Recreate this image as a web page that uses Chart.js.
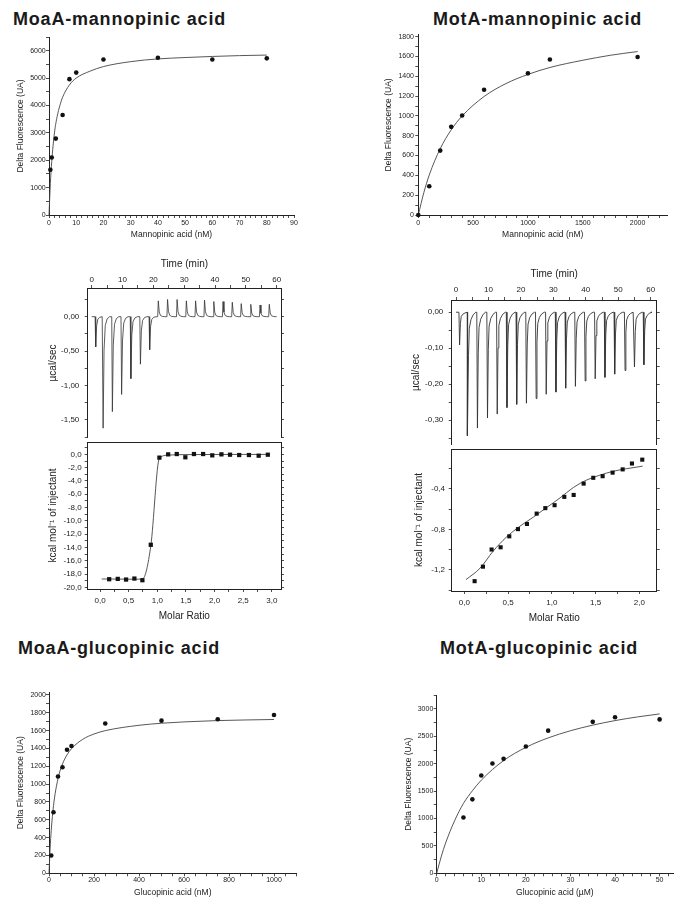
<!DOCTYPE html>
<html>
<head>
<meta charset="utf-8">
<title>index</title>
<script src="https://cdn.jsdelivr.net/npm/chart.js"></script>
<style>
  body { margin: 0; background: #fff; }
  #page { position: relative; width: 677px; height: 899px; overflow: hidden; font-family: "Liberation Sans", Arial, sans-serif; }
  .title { position: absolute; font-weight: bold; font-size: 18px; line-height: 18px; letter-spacing: 0.8px; color: #1a1a1a; white-space: nowrap; }
  canvas { position: absolute; }
</style>
</head>
<body>
<div id="page">
  <div class="title" style="left:13px;top:10px">MoaA-mannopinic acid</div>
  <div class="title" style="left:433px;top:10px">MotA-mannopinic acid</div>
  <div class="title" style="left:18px;top:639px">MoaA-glucopinic acid</div>
  <div class="title" style="left:440px;top:639px">MotA-glucopinic acid</div>
  <canvas id="moaMan"></canvas>
  <canvas id="motMan"></canvas>
  <canvas id="moaItcRaw"></canvas>
  <canvas id="moaItcFit"></canvas>
  <canvas id="motItcRaw"></canvas>
  <canvas id="motItcFit"></canvas>
  <canvas id="moaGlu"></canvas>
  <canvas id="motGlu"></canvas>
</div>

<script>
  // MoaA - mannopinic acid, fluorescence titration
  const moaManX = [0.5, 1, 2.5, 5, 7.5, 10, 20, 40, 60, 80];
  const moaManY = [1650, 2100, 2790, 3650, 4960, 5200, 5680, 5740, 5680, 5720];
  const moaManFitX = [0, 0.5, 1, 2, 3, 4, 5, 7.5, 10, 15, 20, 30, 40, 50, 60, 70, 80];
  const moaManFitY = [0, 1150, 1950, 3000, 3600, 4000, 4300, 4750, 5000, 5250, 5420, 5600, 5700, 5750, 5790, 5820, 5840];

  // MotA - mannopinic acid
  const motManX = [0, 100, 200, 300, 400, 600, 1000, 1200, 2000];
  const motManY = [0, 290, 650, 890, 1005, 1265, 1430, 1570, 1595];
  const motManFitX = [0, 50, 100, 200, 300, 400, 600, 800, 1000, 1200, 1500, 1750, 2000];
  const motManFitY = [0, 224, 404, 670, 859, 1000, 1196, 1327, 1419, 1489, 1562, 1612, 1650];

  // MoaA ITC: raw injections (min, peak µcal/sec) and integrated heats
  const moaInjT = [1.2, 3.6, 6.6, 9.6, 12.6, 15.7, 18.7, 21.5, 24.5, 27.6, 30.6, 33.6, 36.5, 39.5, 42.5, 45.5, 48.4, 51.5, 54.5, 57.5];
  const moaInjPeak = [-0.44, -1.62, -1.38, -1.13, -0.90, -0.69, -0.48, 0.23, 0.25, 0.25, 0.23, 0.23, 0.24, 0.22, 0.22, 0.21, 0.19, 0.18, 0.17, 0.18];
  const moaRatio = [0.16, 0.31, 0.455, 0.60, 0.74, 0.886, 1.037, 1.19, 1.34, 1.49, 1.64, 1.80, 1.96, 2.12, 2.27, 2.43, 2.60, 2.77, 2.93];
  const moaHeat = [-18.78, -18.73, -18.83, -18.68, -18.93, -13.6, -0.49, 0.0, 0.05, -0.44, 0.05, 0.05, -0.15, 0.0, -0.05, -0.1, -0.1, -0.2, -0.05];
  const moaHeatFitX = [0.03, 0.16, 0.31, 0.46, 0.60, 0.74, 0.886, 1.037, 1.19, 1.34, 1.64, 2.0, 2.5, 2.93];
  const moaHeatFitY = [-18.75, -18.75, -18.76, -18.77, -18.78, -18.75, -13.8, -0.6, -0.12, -0.05, -0.03, -0.02, -0.01, -0.01];

  // MotA ITC
  const motInjT = [1.0, 3.5, 6.5, 9.6, 12.6, 15.6, 18.6, 21.6, 24.6, 27.7, 30.7, 33.7, 36.7, 39.7, 42.8, 45.8, 48.8, 52.0, 54.9, 57.8];
  const motInjPeak = [-0.091, -0.343, -0.322, -0.294, -0.283, -0.265, -0.256, -0.253, -0.240, -0.228, -0.222, -0.211, -0.206, -0.191, -0.185, -0.181, -0.172, -0.162, -0.152, -0.146];
  const motRatio = [0.118, 0.213, 0.312, 0.415, 0.514, 0.613, 0.716, 0.827, 0.926, 1.032, 1.143, 1.25, 1.364, 1.474, 1.581, 1.695, 1.81, 1.916, 2.034];
  const motHeat = [-1.311, -1.168, -0.999, -0.977, -0.869, -0.798, -0.747, -0.645, -0.591, -0.562, -0.480, -0.461, -0.349, -0.292, -0.276, -0.241, -0.209, -0.151, -0.113];
  const motHeatFitX = [0.019, 0.179, 0.33, 0.48, 0.636, 0.789, 0.941, 1.094, 1.246, 1.398, 1.55, 1.7, 1.856, 2.038];
  const motHeatFitY = [-1.296, -1.184, -1.015, -0.878, -0.769, -0.68, -0.585, -0.49, -0.388, -0.314, -0.266, -0.228, -0.202, -0.177];

  // MoaA - glucopinic acid
  const moaGluX = [10, 20, 40, 60, 80, 100, 250, 500, 750, 1000];
  const moaGluY = [200, 685, 1085, 1190, 1385, 1428, 1680, 1712, 1727, 1776];
  const moaGluFitX = [0, 5, 10, 20, 40, 60, 80, 100, 150, 200, 250, 400, 500, 600, 750, 1000];
  const moaGluFitY = [0, 280, 483, 759, 1062, 1226, 1328, 1398, 1503, 1562, 1600, 1660, 1683, 1698, 1713, 1725];

  // MotA - glucopinic acid
  const motGluX = [6, 8, 10, 12.5, 15, 20, 25, 35, 40, 50];
  const motGluY = [1020, 1350, 1785, 2005, 2090, 2315, 2605, 2765, 2850, 2810];
  const motGluFitX = [0, 1, 2, 4, 6, 8, 10, 15, 20, 25, 30, 35, 40, 45, 50];
  const motGluFitY = [0, 300, 553, 957, 1276, 1506, 1700, 2058, 2299, 2472, 2603, 2705, 2788, 2855, 2910];

  // tick labels
  const timeTicks = [0, 10, 20, 30, 40, 50, 60];
  const moaManXTicks = [0, 10, 20, 30, 40, 50, 60, 70, 80, 90];
  const moaManYTicks = [0, 1000, 2000, 3000, 4000, 5000, 6000];
  const motManXTicks = [0, 500, 1000, 1500, 2000];
  const motManYTicks = [0, 200, 400, 600, 800, 1000, 1200, 1400, 1600, 1800];
  const moaRawYTicks = [0, -0.5, -1.0, -1.5];
  const moaFitYTicks = [0, -2, -4, -6, -8, -10, -12, -14, -16, -18, -20];
  const moaRatioTicks = [0, 0.5, 1.0, 1.5, 2.0, 2.5, 3.0];
  const motRawYTicks = [0, -0.1, -0.2, -0.3];
  const motFitYTicks = [-0.4, -0.8, -1.2];
  const motRatioTicks = [0, 0.5, 1.0, 1.5, 2.0];
  const moaGluXTicks = [0, 200, 400, 600, 800, 1000];
  const moaGluYTicks = [0, 200, 400, 600, 800, 1000, 1200, 1400, 1600, 1800, 2000];
  const motGluXTicks = [0, 10, 20, 30, 40, 50];
  const motGluYTicks = [0, 500, 1000, 1500, 2000, 2500, 3000];

  const INK = '#222';
  const FONT = '"Liberation Sans", Arial, sans-serif';
  const KCAL = 'kcal mol\u207B\u00B9 of injectant';

  // shape of one injection peak: [minutes after injection, fraction of peak]
  const moaSpike = [[-0.1, 0], [0.1, 1], [0.4, 0.3], [0.8, 0.08], [1.4, 0.02], [2.2, 0]];
  const motSpike = [[-0.1, 0], [0.1, 1], [0.35, 0.35], [0.6, 0.13], [1.1, 0.06], [1.8, 0.02], [2.6, 0]];

  function trace(times, peaks, shape) {
    const out = [{ x: 0, y: 0 }];
    times.forEach((t, i) => shape.forEach(([dt, f]) => out.push({ x: t + dt, y: peaks[i] * f })));
    out.push({ x: 60, y: 0 });
    return out;
  }

  const pts = (xs, ys) => xs.map((x, i) => ({ x, y: ys[i] }));
  const dots = (xs, ys, style, r) => ({ data: pts(xs, ys), showLine: false, pointStyle: style || 'circle', pointRadius: r || 2.3, backgroundColor: '#111', borderWidth: 0, clip: false });
  const fit = (xs, ys) => ({ data: pts(xs, ys), showLine: true, pointRadius: 0, borderColor: '#444', borderWidth: 0.9, cubicInterpolationMode: 'monotone', clip: false });
  const line = (data, w) => ({ data, showLine: true, pointRadius: 0, borderColor: '#333', borderWidth: w, tension: 0 });

  function fmt(v, dec) { return dec ? v.toFixed(dec).replace('.', ',') : String(v); }

  function tickList(major, step, min, max) {
    const out = major.slice();
    if (step) {
      for (let k = Math.ceil(min / step - 1e-9); k * step <= max + 1e-9; k++) {
        const v = +(k * step).toFixed(6);
        if (!out.some(m => Math.abs(m - v) < 1e-9)) out.push(v);
      }
    }
    return out.sort((a, b) => a - b);
  }

  function axis(o) {
    const major = o.major || [];
    const values = tickList(major, o.minor || (o.max - o.min) / 4, o.min, o.max);
    const isMajor = v => major.some(m => Math.abs(m - v) < 1e-9);
    return {
      type: 'linear', display: true, position: o.pos, min: o.min, max: o.max,
      afterBuildTicks: s => { s.ticks = values.map(v => ({ value: v })); },
      afterFit: s => {
        if (s.isHorizontal()) s.height = o.size; else s.width = o.size;
        s.paddingLeft = s.paddingRight = s.paddingTop = s.paddingBottom = 0;
      },
      grid: { drawOnChartArea: false, drawTicks: !!o.tick, tickLength: o.tick || 3, tickColor: INK, tickWidth: 0.8 },
      border: { display: true, color: INK, width: 1 },
      ticks: {
        display: !!o.labels, padding: o.pad || 0, color: INK, autoSkip: false, maxRotation: 0,
        font: { family: FONT, size: o.fs || 7 },
        callback: v => isMajor(v) ? fmt(v, o.dec) : ''
      },
      title: { display: !!o.title, text: o.title || '', padding: 0, color: INK, font: { family: FONT, size: o.tfs || 8.5 } }
    };
  }

  // rect = canvas [left, top, width, height]; area = plot box [left, top, right, bottom] in page pixels
  function plot(id, rect, area, axes, datasets) {
    const c = document.getElementById(id);
    c.width = rect[2]; c.height = rect[3];
    c.style.left = rect[0] + 'px'; c.style.top = rect[1] + 'px';
    const scales = {}, used = { left: 0, right: 0, top: 0, bottom: 0 };
    for (const [key, o] of Object.entries(axes)) { scales[key] = axis(o); used[o.pos] += o.size; }
    const padding = {
      left: area[0] - rect[0] - used.left,
      top: area[1] - rect[1] - used.top,
      right: rect[0] + rect[2] - area[2] - used.right,
      bottom: rect[1] + rect[3] - area[3] - used.bottom
    };
    new Chart(c, {
      type: 'scatter',
      data: { datasets },
      options: {
        responsive: false, animation: false, events: [],
        layout: { padding },
        plugins: { legend: { display: false }, tooltip: { enabled: false } },
        scales
      }
    });
  }

  // fluorescence panels
  plot('moaMan', [0, 28, 310, 222], [49, 37, 294, 215], {
    x: { pos: 'bottom', min: 0, max: 90, major: moaManXTicks, minor: 2, size: 25.1, tick: 3, pad: 0.5, labels: true, title: 'Mannopinic acid (nM)' },
    y: { pos: 'left', min: 0, max: 6500, major: moaManYTicks, minor: 500, size: 33.4, tick: 3, pad: 0.3, labels: true, title: 'Delta Fluorescence (UA)' }
  }, [dots(moaManX, moaManY), fit(moaManFitX, moaManFitY)]);

  plot('motMan', [360, 25, 317, 225], [418.3, 34.7, 667.2, 215], {
    x: { pos: 'bottom', min: 0, max: 2270, major: motManXTicks, minor: 100, size: 25.1, tick: 3, pad: 0.5, labels: true, title: 'Mannopinic acid (nM)' },
    y: { pos: 'left', min: 0, max: 1820, major: motManYTicks, minor: 100, size: 34.4, tick: 3, pad: 1.3, labels: true, title: 'Delta Fluorescence (UA)' }
  }, [dots(motManX, motManY), fit(motManFitX, motManFitY)]);

  plot('moaGlu', [0, 682, 310, 217], [49, 692.3, 296.5, 873.3], {
    x: { pos: 'bottom', min: 0, max: 1100, major: moaGluXTicks, minor: 50, size: 24.5, tick: 3, pad: 0, labels: true, title: 'Glucopinic acid (nM)' },
    y: { pos: 'left', min: 0, max: 2030, major: moaGluYTicks, minor: 100, size: 33.4, tick: 3, pad: 0, labels: true, title: 'Delta Fluorescence (UA)' }
  }, [dots(moaGluX, moaGluY), fit(moaGluFitX, moaGluFitY)]);

  plot('motGlu', [380, 682, 297, 217], [436.7, 695.3, 676.3, 873.3], {
    x: { pos: 'bottom', min: 0, max: 53, major: motGluXTicks, minor: 2, size: 24.5, tick: 3, pad: 0, labels: true, title: 'Glucopinic acid (\u00B5M)' },
    y: { pos: 'left', min: 0, max: 3250, major: motGluYTicks, minor: 250, size: 32.8, tick: 3, pad: 0.4, labels: true, title: 'Delta Fluorescence (UA)' }
  }, [dots(motGluX, motGluY), fit(motGluFitX, motGluFitY)]);

  // ITC, MoaA
  plot('moaItcRaw', [40, 255, 250, 183], [87.7, 288, 281, 438], {
    x: { pos: 'top', min: -1.3, max: 61.4, major: timeTicks, minor: 5, size: 30, tick: 3, pad: 0.2, labels: true, fs: 8, title: 'Time (min)', tfs: 10 },
    x2: { pos: 'bottom', min: -1.3, max: 61.4, size: 0 },
    y: { pos: 'left', min: -1.763, max: 0.417, major: moaRawYTicks, minor: 0.25, dec: 2, size: 40.7, tick: 3, pad: 5.4, labels: true, fs: 8, title: '\u00B5cal/sec', tfs: 10 },
    y2: { pos: 'right', min: -1.763, max: 0.417, major: moaRawYTicks, minor: 0.25, size: 3, tick: 3 }
  }, [line(trace(moaInjT, moaInjPeak, moaSpike), 0.8)]);

  plot('moaItcFit', [40, 438, 250, 190], [87.7, 438, 281, 589], {
    x: { pos: 'bottom', min: -0.215, max: 3.16, major: moaRatioTicks, minor: 0.25, dec: 1, size: 33, tick: 3, pad: 3.9, labels: true, fs: 8, title: 'Molar Ratio', tfs: 10 },
    x2: { pos: 'top', min: -0.215, max: 3.16, size: 0 },
    y: { pos: 'left', min: -20.25, max: 1.86, major: moaFitYTicks, minor: 1, dec: 1, size: 40.7, tick: 3, pad: 3, labels: true, fs: 8, title: KCAL, tfs: 10 },
    y2: { pos: 'right', min: -20.25, max: 1.86, major: moaFitYTicks, minor: 1, size: 3, tick: 3 }
  }, [dots(moaRatio, moaHeat, 'rect', 3), fit(moaHeatFitX, moaHeatFitY)]);

  // ITC, MotA
  plot('motItcRaw', [400, 262, 270, 183], [451.7, 300, 656.7, 445], {
    x: { pos: 'top', min: -1.33, max: 61.85, major: timeTicks, minor: 5, size: 32, tick: 3, pad: 2.2, labels: true, fs: 8, title: 'Time (min)', tfs: 10 },
    x2: { pos: 'bottom', min: -1.33, max: 61.85, size: 0 },
    y: { pos: 'left', min: -0.369, max: 0.034, major: motRawYTicks, minor: 0.05, dec: 2, size: 41, tick: 3, pad: 5.4, labels: true, fs: 8, title: '\u00B5cal/sec', tfs: 10 },
    y2: { pos: 'right', min: -0.369, max: 0.034, major: motRawYTicks, minor: 0.05, size: 3, tick: 3 }
  }, [line(trace(motInjT, motInjPeak, motSpike), 0.9)]);

  plot('motItcFit', [400, 445, 270, 190], [451.7, 445, 656.7, 591], {
    x: { pos: 'bottom', min: -0.144, max: 2.199, major: motRatioTicks, minor: 0.25, dec: 1, size: 33.3, tick: 3, pad: 3.5, labels: true, fs: 8, title: 'Molar Ratio', tfs: 10 },
    x2: { pos: 'top', min: -0.144, max: 2.199, size: 0 },
    y: { pos: 'left', min: -1.408, max: -0.008, major: motFitYTicks, minor: 0.2, dec: 1, size: 38.4, tick: 3, pad: 3.7, labels: true, fs: 8, title: KCAL, tfs: 10 },
    y2: { pos: 'right', min: -1.408, max: -0.008, major: motFitYTicks, minor: 0.2, size: 3, tick: 3 }
  }, [dots(motRatio, motHeat, 'rect', 2.9), fit(motHeatFitX, motHeatFitY)]);
</script>
</body>
</html>
